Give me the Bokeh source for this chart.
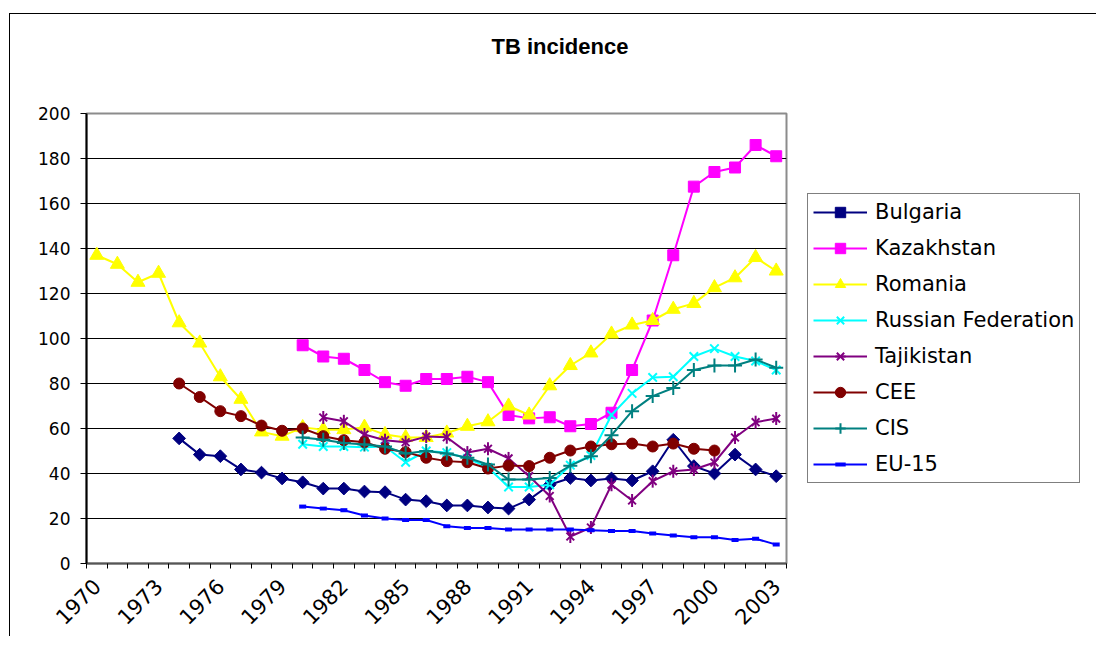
from math import pi
from bokeh.plotting import figure
from bokeh.models import FixedTicker, Title
from bokeh.embed import file_html
from bokeh.resources import INLINE

title_text = "TB incidence"
year_first, year_last = 1970, 2003
label_years = list(range(1970, 2004, 3))
y_ticks = [0, 20, 40, 60, 80, 100, 120, 140, 160, 180, 200]

bulgaria_start = 1974
bulgaria = [55.6, 48.4, 47.7, 41.8, 40.4, 37.8, 36.1, 33.3, 33.3, 32.0, 31.7, 28.4,
            27.7, 25.8, 25.8, 24.9, 24.4, 28.4, 35.0, 38.0, 36.9, 37.8, 36.9, 41.0,
            55.0, 43.3, 40.0, 48.4, 41.8, 38.8]

kazakhstan_start = 1980
kazakhstan = [97, 92, 91, 86, 80.6, 79, 82, 82, 83, 80.6, 66, 64.5, 65, 61, 62, 67,
              86, 108, 137, 167.5, 174, 176, 186, 181]

romania_start = 1970
romania = [137, 133, 125, 129, 107, 98, 83, 73, 58.5, 56.6, 60.4, 59.5, 59.5, 60.6,
           57.3, 56, 56, 58, 61, 63, 70, 66, 79, 88, 93.6, 102, 106, 108, 113,
           115.6, 122.6, 127, 136, 130]

russia_start = 1980
russia = [53, 52, 52, 51.7, 52, 45, 50, 49.3, 46.7, 42.7, 34, 34, 35, 43.7, 48, 66,
          75.6, 82.7, 83, 92, 95.5, 92, 90, 86]

tajikistan_start = 1981
tajikistan = [64.9, 63.2, 57.3, 54.8, 53.9, 56.4, 56.1, 49.3, 51, 46.7, 38.8, 30, 12,
              16, 35, 28, 36.6, 41, 41.8, 44.9, 56, 62.8, 64.4]

cee_start = 1974
cee = [80, 74, 67.7, 65.5, 61.3, 59, 60, 56.6, 54.8, 53.9, 51, 49.5, 47, 45.5, 45,
       42.2, 43.5, 43.3, 47, 50.2, 52, 53, 53.3, 52, 53.3, 51, 50.2]

cis_start = 1980
cis = [56, 55, 53.6, 52.9, 52, 48.9, 50, 48.9, 47, 44, 37.3, 37.3, 38, 43.5, 47.7, 57,
       67.7, 74.4, 78, 86, 88, 88, 90.7, 87]

eu15_start = 1980
eu15 = [25.3, 24.4, 23.7, 21.3, 20, 19.3, 19.3, 16.6, 15.8, 15.8, 15.1, 15.1, 15.1,
        15.1, 14.8, 14.4, 14.4, 13.3, 12.4, 11.7, 11.7, 10.4, 11, 8.4]


def xs(start, vals):
    return [start + i for i in range(len(vals))]


p = figure(frame_width=700, frame_height=450,
           min_border_left=76, min_border_right=301,
           min_border_top=99, min_border_bottom=74,
           x_range=(year_first - 0.5, year_last + 0.5), y_range=(0, 200),
           output_backend="svg", toolbar_location=None, tools="")
p.styles = {"margin-left": "10px", "margin-top": "14px",
            "box-shadow": "-1px -1px 0 0 #000000"}

# spacer (closest to the frame) then the visible title above it
p.add_layout(Title(text=" ", text_font_size="10px", standoff=40), "above")
p.add_layout(Title(text=title_text, align="left", offset=405, vertical_align="top",
                   standoff=0, text_font="Liberation Sans", text_font_style="bold",
                   text_font_size="22px", text_color="black"), "above")

p.background_fill_color = "white"
p.border_fill_color = "white"
p.outline_line_color = "#8c8c8c"
p.outline_line_width = 2

# axes
tick_font = "DejaVu Sans"
p.xaxis.ticker = FixedTicker(ticks=label_years,
                             minor_ticks=[y - 0.5 for y in range(year_first, year_last + 2)])
p.xaxis.major_tick_out = 0
p.xaxis.major_tick_in = 0
p.xaxis.minor_tick_out = 5
p.xaxis.minor_tick_in = 0
p.xaxis.minor_tick_line_color = "black"
p.xaxis.axis_line_color = "#555555"
p.xaxis.axis_line_width = 2
p.xaxis.major_label_orientation = pi / 4
p.xaxis.major_label_text_font = tick_font
p.xaxis.major_label_text_font_size = "21px"
p.xaxis.major_label_text_color = "black"
p.xaxis.major_label_standoff = 14

p.yaxis.ticker = FixedTicker(ticks=y_ticks)
p.yaxis.minor_tick_line_color = None
p.yaxis.major_tick_out = 6
p.yaxis.major_tick_in = 0
p.yaxis.axis_line_color = "black"
p.yaxis.axis_line_width = 2
p.yaxis.major_label_text_font = tick_font
p.yaxis.major_label_text_font_size = "17px"
p.yaxis.major_label_text_color = "black"
p.yaxis.major_label_standoff = 10

p.xgrid.grid_line_color = None
p.ygrid.ticker = FixedTicker(ticks=y_ticks[1:-1])
p.ygrid.grid_line_color = "black"
p.ygrid.grid_line_width = 1

lw = 2

# Bulgaria
bx = xs(bulgaria_start, bulgaria)
p.line(bx, bulgaria, line_color="#000080", line_width=lw, legend_label="Bulgaria")
p.scatter(bx, bulgaria, marker="square", angle=pi / 4, size=9, fill_color="#000080",
          line_color="#000080", legend_label="Bulgaria")

# Kazakhstan
kx = xs(kazakhstan_start, kazakhstan)
p.line(kx, kazakhstan, line_color="#FF00FF", line_width=lw, legend_label="Kazakhstan")
p.scatter(kx, kazakhstan, marker="square", size=11, fill_color="#FF00FF",
          line_color="#FF00FF", legend_label="Kazakhstan")

# Romania
rx = xs(romania_start, romania)
p.line(rx, romania, line_color="#FFFF00", line_width=lw, legend_label="Romania")
p.scatter(rx, romania, marker="triangle", size=14, fill_color="#FFFF00",
          line_color="#FFFF00", legend_label="Romania")

# Russian Federation
ux = xs(russia_start, russia)
p.line(ux, russia, line_color="#00FFFF", line_width=lw, legend_label="Russian Federation")
p.scatter(ux, russia, marker="x", size=12, line_color="#00FFFF", line_width=2,
          legend_label="Russian Federation")

# Tajikistan
tx = xs(tajikistan_start, tajikistan)
p.line(tx, tajikistan, line_color="#800080", line_width=lw, legend_label="Tajikistan")
p.scatter(tx, tajikistan, marker="x", size=11, line_color="#800080", line_width=2,
          legend_label="Tajikistan")
p.scatter(tx, tajikistan, marker="dash", angle=pi / 2, size=13, line_color="#800080",
          line_width=2, legend_label="Tajikistan")

# CEE
cx = xs(cee_start, cee)
p.line(cx, cee, line_color="#800000", line_width=lw, legend_label="CEE")
p.scatter(cx, cee, marker="circle", size=11, fill_color="#800000",
          line_color="#800000", legend_label="CEE")

# CIS
sx = xs(cis_start, cis)
p.line(sx, cis, line_color="#008080", line_width=lw, legend_label="CIS")
p.scatter(sx, cis, marker="cross", size=14, line_color="#008080", line_width=2,
          legend_label="CIS")

# EU-15
ex = xs(eu15_start, eu15)
p.line(ex, eu15, line_color="#0000FF", line_width=lw, legend_label="EU-15")
p.scatter(ex, eu15, marker="dash", size=7, line_color="#0000FF", line_width=4,
          legend_label="EU-15")

leg = p.legend[0]
p.center.remove(leg)
p.add_layout(leg, "right")
leg.location = (21, 80)
leg.orientation = "vertical"
leg.border_line_color = "black"
leg.border_line_width = 1
leg.background_fill_color = "white"
leg.background_fill_alpha = 1
leg.padding = 5
leg.spacing = 10
leg.margin = 0
leg.glyph_width = 54
leg.glyph_height = 26
leg.label_height = 26
leg.label_standoff = 8
leg.label_text_font = "DejaVu Sans"
leg.label_text_font_size = "21px"
leg.label_text_color = "black"

open("out.html", "w").write(file_html(p, INLINE))
